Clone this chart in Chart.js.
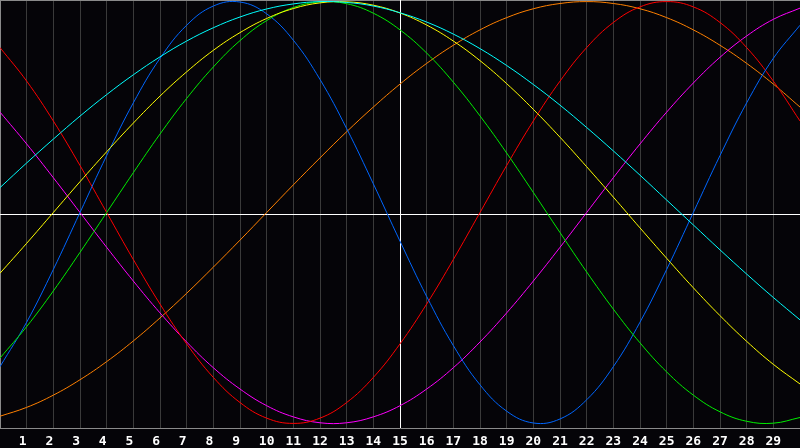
<!DOCTYPE html>
<html><head><meta charset="utf-8">
<script src="https://cdn.jsdelivr.net/npm/chart.js@4/dist/chart.umd.min.js"></script>
<style>html,body{margin:0;padding:0;background:#050408;}#wrap{width:800px;height:448px;position:relative;}</style>
</head><body><div id="wrap"><canvas id="c"></canvas></div>
<script>
const days = [0,1,2,3,4,5,6,7,8,9,10,11,12,13,14,15,16,17,18,19,20,21,22,23,24,25,26,27,28,29,30];
const tickLabels = ['', '1','2','3','4','5','6','7','8','9','10','11','12','13','14','15','16','17','18','19','20','21','22','23','24','25','26','27','28','29', ''];
const todayIndex = 15;

const physical = [-0.731,-0.520,-0.270,0,0.270,0.520,0.731,0.888,0.979,0.998,0.942,0.817,0.631,0.398,0.136,-0.136,-0.398,-0.631,-0.817,-0.942,-0.998,-0.979,-0.888,-0.731,-0.520,-0.270,0,0.270,0.520,0.731,0.888];
const emotional = [0.782,0.623,0.434,0.223,0,-0.223,-0.434,-0.623,-0.782,-0.901,-0.975,-1.000,-0.975,-0.901,-0.782,-0.623,-0.434,-0.223,0,0.223,0.434,0.623,0.782,0.901,0.975,1.000,0.975,0.901,0.782,0.623,0.434];
const intellectual = [-0.690,-0.541,-0.372,-0.189,0,0.189,0.372,0.541,0.690,0.815,0.910,0.972,0.999,0.990,0.945,0.866,0.756,0.618,0.458,0.282,0.095,-0.095,-0.282,-0.458,-0.618,-0.756,-0.866,-0.945,-0.990,-0.999,-0.972];
const intuitive = [0.476,0.325,0.165,0,-0.165,-0.325,-0.476,-0.614,-0.736,-0.837,-0.916,-0.969,-0.997,-0.997,-0.969,-0.916,-0.837,-0.736,-0.614,-0.476,-0.325,-0.165,0,0.165,0.325,0.476,0.614,0.736,0.837,0.916,0.969];
const aesthetic = [-0.288,-0.146,0,0.146,0.288,0.424,0.552,0.667,0.769,0.853,0.920,0.967,0.994,0.999,0.983,0.946,0.889,0.813,0.720,0.611,0.489,0.357,0.217,0.073,-0.073,-0.217,-0.357,-0.489,-0.611,-0.720,-0.813];
const awareness = [-0.966,-0.924,-0.866,-0.793,-0.707,-0.609,-0.500,-0.383,-0.259,-0.131,0,0.131,0.259,0.383,0.500,0.609,0.707,0.793,0.866,0.924,0.966,0.991,1.000,0.991,0.966,0.924,0.866,0.793,0.707,0.609,0.500];
const spiritual = [0.118,0.235,0.348,0.457,0.559,0.653,0.738,0.813,0.876,0.927,0.965,0.989,1.000,0.996,0.979,0.947,0.903,0.846,0.777,0.697,0.607,0.509,0.403,0.292,0.177,0.059,-0.059,-0.177,-0.292,-0.403,-0.509];

const BG = '#050408', GRID = '#3a3a3a', FRAME = '#8a8a8a';

function ds(data, color, order) {
  return { data, borderColor: color, borderWidth: 1, pointRadius: 0, pointHoverRadius: 0, pointHitRadius: 0, tension: 0.4, fill: false, order };
}

const refLines = {
  id: 'refLines',
  beforeDraw(chart) {
    const ctx = chart.ctx;
    ctx.save(); ctx.fillStyle = BG; ctx.fillRect(0, 0, chart.width, chart.height); ctx.restore();
  },
  beforeDatasetsDraw(chart) {
    const { ctx, chartArea: a, scales: { x } } = chart;
    ctx.save();
    ctx.lineWidth = 1;
    ctx.strokeStyle = FRAME;
    ctx.beginPath(); ctx.moveTo(a.left, a.top + 0.5); ctx.lineTo(a.right, a.top + 0.5); ctx.stroke();
    ctx.strokeStyle = '#ffffff';
    const midY = Math.round((a.top + a.bottom) / 2) + 0.5;
    ctx.beginPath(); ctx.moveTo(a.left, midY); ctx.lineTo(a.right, midY); ctx.stroke();
    const tx = Math.round(x.getPixelForValue(todayIndex)) + 0.5;
    ctx.beginPath(); ctx.moveTo(tx, a.top); ctx.lineTo(tx, a.bottom); ctx.stroke();
    ctx.restore();
  }
};

new Chart(document.getElementById('c'), {
  type: 'line',
  data: {
    labels: days,
    datasets: [
      ds(awareness, '#ff8000', 7),
      ds(intuitive, '#ff00ff', 6),
      ds(emotional, '#ff0000', 5),
      ds(physical, '#0066ff', 4),
      ds(intellectual, '#00ee00', 3),
      ds(aesthetic, '#ffff00', 2),
      ds(spiritual, '#00ffff', 1)
    ]
  },
  options: {
    responsive: true, maintainAspectRatio: false, animation: false, devicePixelRatio: 1,
    layout: { padding: 0, autoPadding: false },
    plugins: { legend: { display: false }, tooltip: { enabled: false } },
    scales: {
      x: {
        type: 'category', offset: false,
        grid: { offset: false, drawTicks: false, lineWidth: 1,
          color: (c) => c.index === 0 ? FRAME : GRID },
        border: { display: true, color: FRAME, width: 1 },
        ticks: { autoSkip: false, maxRotation: 0, padding: 6, color: '#ffffff',
          font: { family: 'DejaVu Sans Mono', weight: 'bold', size: 13 },
          callback: (v, i) => tickLabels[i].length === 1 ? tickLabels[i] + ' ' : tickLabels[i] },
        afterFit: (s) => { s.height = 20; s.paddingLeft = 0; s.paddingRight = 0; }
      },
      y: { display: false, min: -1.0218, max: 1.0076 }
    }
  },
  plugins: [refLines]
});
</script></body></html>
